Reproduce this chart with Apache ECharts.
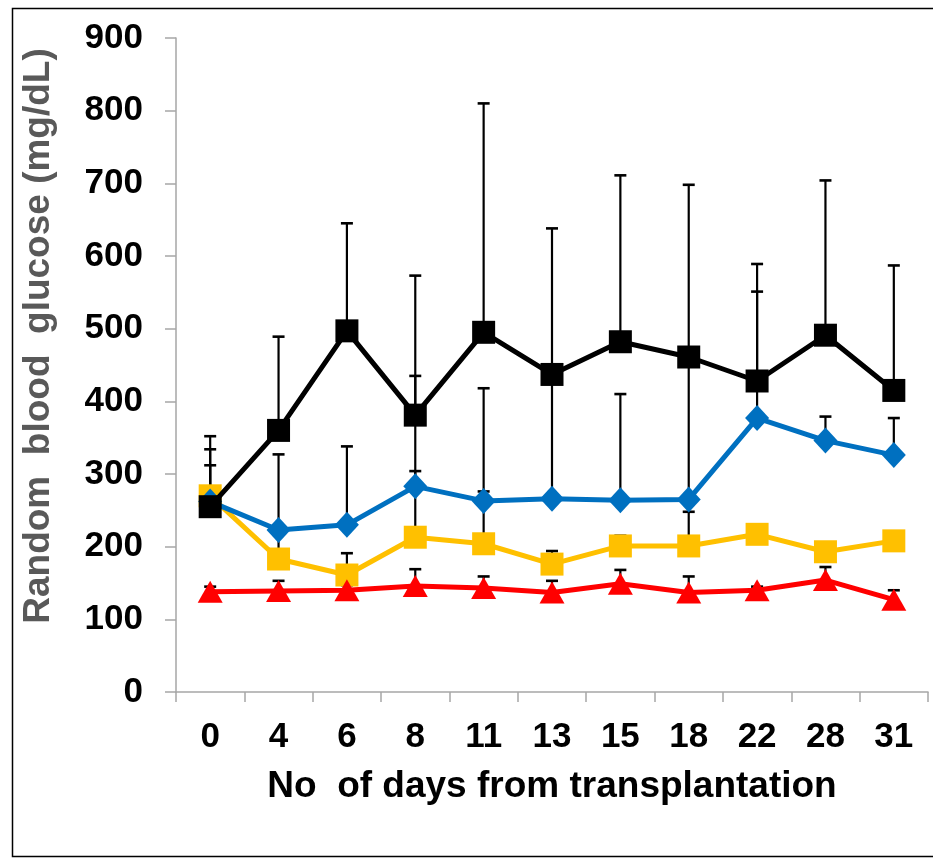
<!DOCTYPE html>
<html>
<head>
<meta charset="utf-8">
<script src="https://cdn.jsdelivr.net/npm/echarts@6/dist/echarts.min.js"></script>
<style>
html,body{margin:0;padding:0;background:#fff;}
#chart{width:933px;height:858px;}
</style>
</head>
<body>
<div id="chart"></div>
<script>
const categories = ['0','4','6','8','11','13','15','18','22','28','31'];
const yTicks = { min: 0, max: 900, interval: 100 };

const blackMean  = [255, 360, 497, 381, 495, 437, 482, 461, 428, 491, 415];
const blackUpper = [352, 489, 645, 573, 810, 638, 711, 698, 589, 704, 587];

const blueMean   = [262, 223, 230, 283, 263, 266, 264, 265, 377, 346, 326];
const blueUpper  = [334, 327, 338, 435, 418, 437, 410, 461, 551, 379, 377];

const yellowMean  = [270, 183, 161, 213, 204, 176, 201, 201, 217, 193, 208];
const yellowUpper = [312, 225, 191, 304, 276, 194, 215, 248, 225, 200, 215];

const redMean  = [138, 139, 140, 146, 143, 137, 149, 137, 140, 154, 127];
const redUpper = [145, 153, 147, 169, 159, 153, 168, 159, 145, 172, 140];

const xTitle = 'No  of days from transplantation';
const yTitle = 'Random  blood  glucose (mg/dL)';

const FONT = '"Liberation Sans", Arial, sans-serif';

function errData(mean, upper) {
  return mean.map((v, i) => [i, v, upper[i]]);
}

function errSeries(mean, upper, z) {
  return {
    type: 'custom',
    z: z,
    silent: true,
    data: errData(mean, upper),
    encode: { x: 0, y: [1, 2] },
    renderItem: function (params, api) {
      const i = api.value(0);
      const p0 = api.coord([i, api.value(1)]);
      const p1 = api.coord([i, api.value(2)]);
      const hw = 6;
      return {
        type: 'group',
        children: [
          { type: 'line', shape: { x1: p0[0], y1: p0[1], x2: p1[0], y2: p1[1] },
            style: { stroke: '#000', lineWidth: 2.2 } },
          { type: 'line', shape: { x1: p1[0] - hw, y1: p1[1], x2: p1[0] + hw, y2: p1[1] },
            style: { stroke: '#000', lineWidth: 2.6 } }
        ]
      };
    }
  };
}

function lineSeries(name, data, color, symbol, size, z) {
  return {
    name: name,
    type: 'line',
    data: data,
    z: z,
    symbol: symbol,
    symbolSize: size,
    lineStyle: { color: color, width: 5 },
    itemStyle: { color: color, borderColor: color, borderWidth: 0 },
    showAllSymbol: true,
    emphasis: { disabled: true }
  };
}

const chart = echarts.init(document.getElementById('chart'), null, { renderer: 'canvas' });
chart.setOption({
  animation: false,
  backgroundColor: '#fff',
  grid: { left: 176, right: 5, top: 38, bottom: 166, containLabel: false },
  xAxis: {
    type: 'category',
    data: categories,
    boundaryGap: true,
    axisLine: { lineStyle: { color: '#A6A6A6', width: 1.5 } },
    axisTick: { show: true, alignWithLabel: false, length: 10, lineStyle: { color: '#A6A6A6', width: 1.5 } },
    axisLabel: { color: '#000', fontSize: 35, fontWeight: 'bold', fontFamily: FONT, margin: 28, interval: 0 },
    splitLine: { show: false },
    name: xTitle,
    nameLocation: 'middle',
    nameGap: 76,
    nameTextStyle: { color: '#000', fontSize: 37, fontWeight: 'bold', fontFamily: FONT }
  },
  yAxis: {
    type: 'value',
    min: yTicks.min, max: yTicks.max, interval: yTicks.interval,
    axisLine: { show: true, lineStyle: { color: '#A6A6A6', width: 1.5 } },
    axisTick: { show: true, length: 11, lineStyle: { color: '#A6A6A6', width: 1.5 } },
    axisLabel: { color: '#000', fontSize: 35, fontWeight: 'bold', fontFamily: FONT, margin: 33 },
    splitLine: { show: false }
  },
  graphic: [
    { type: 'rect', left: 10, top: 6, shape: { width: 940, height: 848 },
      style: { fill: 'none', stroke: '#000', lineWidth: 1.5 }, silent: true },
    { type: 'text', x: 39, y: 336, rotation: Math.PI / 2,
      style: { text: yTitle, fill: '#595959', font: 'bold 37px ' + FONT, align: 'center', verticalAlign: 'middle' } }
  ],
  series: [
    errSeries(yellowMean, yellowUpper, 2),
    errSeries(redMean, redUpper, 2),
    errSeries(blueMean, blueUpper, 2),
    errSeries(blackMean, blackUpper, 2),
    lineSeries('Group 3', yellowMean, '#FFC000', 'rect', 23, 3),
    lineSeries('Group 2', blueMean, '#0070C0', 'diamond', [24, 26], 4),
    lineSeries('Group 4', redMean, '#FF0000', 'triangle', [25, 22], 5),
    lineSeries('Group 1', blackMean, '#000000', 'rect', 23, 6)
  ]
});
</script>
</body>
</html>
